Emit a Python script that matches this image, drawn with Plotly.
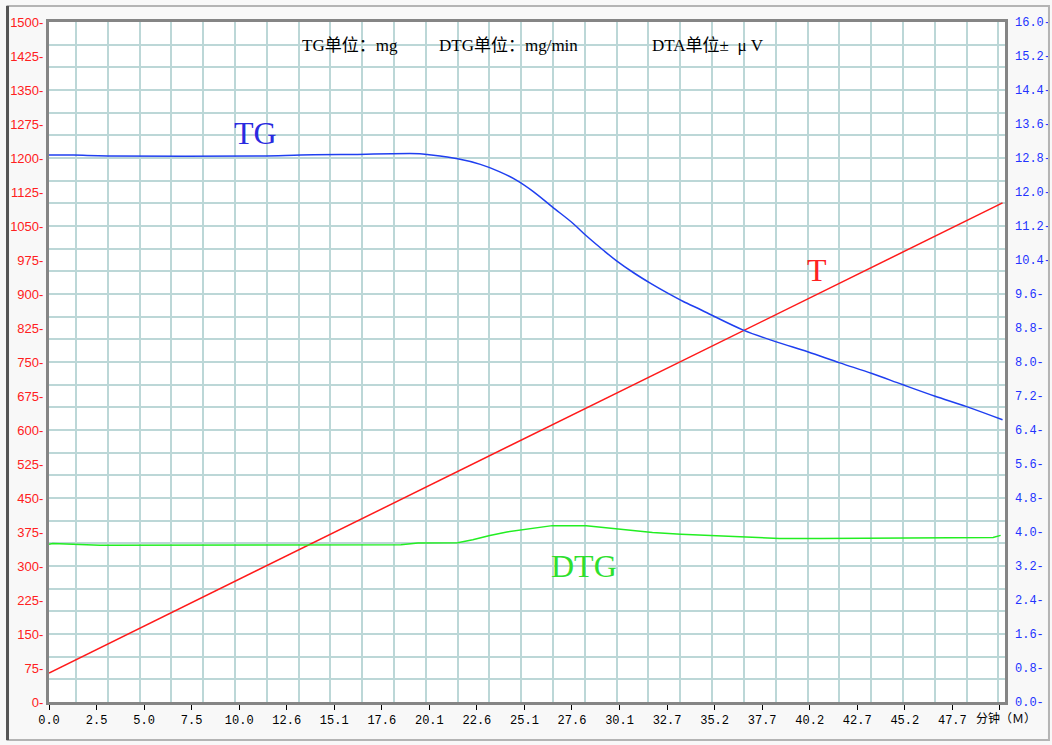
import plotly.graph_objects as go

# ---- thermal analysis readings (time in minutes) ----
# TG: sample mass, right axis (mg)
time_tg = [0.0, 1.3, 3.1, 11.2, 13.3, 15.4, 19.6, 20.0, 21.6, 22.8, 23.8, 24.7,
           25.6, 26.6, 27.7, 28.4, 29.3, 30.0, 30.9, 31.8, 32.7, 33.5, 34.4,
           34.9, 36.7, 38.4, 40.1, 41.8, 43.5, 45.1, 46.8, 48.5, 50.4]
tg_mg = [12.87, 12.87, 12.85, 12.85, 12.87, 12.88, 12.90, 12.88, 12.78, 12.65,
         12.48, 12.28, 12.01, 11.65, 11.26, 10.97, 10.63, 10.38, 10.10, 9.85,
         9.62, 9.43, 9.24, 9.13, 8.75, 8.48, 8.24, 7.98, 7.73, 7.47, 7.20,
         6.95, 6.64]

# DTG: mass-loss rate, right axis (mg/min)
time_dtg = [0.0, 0.2, 2.7, 8.0, 13.3, 18.6, 19.5, 21.6, 22.4, 23.3, 24.2, 24.9,
            25.8, 26.6, 28.4, 29.5, 30.7, 31.9, 33.4, 34.8, 36.7, 38.6, 40.8,
            44.3, 46.0, 47.8, 49.9, 50.3]
dtg = [3.71, 3.73, 3.69, 3.69, 3.69, 3.70, 3.74, 3.75, 3.82, 3.92, 4.00, 4.04,
       4.10, 4.15, 4.15, 4.10, 4.06, 3.99, 3.95, 3.92, 3.88, 3.85, 3.85, 3.86,
       3.85, 3.87, 3.87, 3.92]

# T: furnace temperature, left axis
time_t = [0.0, 12.2, 17.7, 36.7, 40.9, 50.4]
temp_t = [64, 315, 428, 819, 906, 1101]

# ---- axis definitions ----
x_tick_labels = ["0.0", "2.5", "5.0", "7.5", "10.0", "12.6", "15.1", "17.6",
                 "20.1", "22.6", "25.1", "27.6", "30.1", "32.7", "35.2", "37.7",
                 "40.2", "42.7", "45.2", "47.7", ""]
x_axis_unit = "分钟（Ｍ）"
x_tick_step = 2.513
x_max = 50.53
x_tick_vals = [i * x_tick_step for i in range(len(x_tick_labels))]

left_tick_vals = list(range(0, 1501, 75))
left_tick_text = [f"{v}-" for v in left_tick_vals]
right_tick_vals = [round(0.8 * i, 1) for i in range(21)]
right_tick_text = [f"{v:.1f}-" for v in right_tick_vals]

GRID = "#bcd7d7"
FRAME = "#858585"
MONO = "Liberation Mono, Noto Sans CJK SC, monospace"

fig = go.Figure()

# background grid (fixed 30 x 30 cells)
fig.add_trace(go.Scatter(x=[], y=[], xaxis="x3", yaxis="y3",
                         hoverinfo="skip", showlegend=False))

fig.add_trace(go.Scatter(x=time_t, y=temp_t, mode="lines", name="T",
                         line=dict(color="#ff1a1a", width=1.5), yaxis="y"))
fig.add_trace(go.Scatter(x=time_tg, y=tg_mg, mode="lines", name="TG",
                         line=dict(color="#1f3ff0", width=1.5, shape="spline",
                                   smoothing=1.0), yaxis="y2"))
fig.add_trace(go.Scatter(x=time_dtg, y=dtg, mode="lines", name="DTG",
                         line=dict(color="#22ee22", width=1.5), yaxis="y2"))

serif = "Liberation Serif, Noto Sans CJK SC, serif"
head_font = dict(family=serif, size=17, color="black")

annotations = [
    dict(x=10.9, y=13.39, xref="x", yref="y2", text="TG", showarrow=False,
         font=dict(family=serif, size=32, color="#2a2ae0")),
    dict(x=40.6, y=953, xref="x", yref="y", text="T", showarrow=False,
         font=dict(family=serif, size=32, color="#ff2020")),
    dict(x=28.3, y=3.2, xref="x", yref="y2", text="DTG", showarrow=False,
         font=dict(family=serif, size=32, color="#2ee02e")),
    dict(x=0.2626, y=0.982, xref="paper", yref="paper", xanchor="left",
         text="TG单位：mg", showarrow=False, font=head_font),
    dict(x=0.4059, y=0.982, xref="paper", yref="paper", xanchor="left",
         text="DTG单位：mg/min", showarrow=False, font=head_font),
    dict(x=0.6287, y=0.982, xref="paper", yref="paper", xanchor="left",
         text="DTA单位±  μ V", showarrow=False, font=head_font),
    # time unit at the end of the x axis
    dict(x=0.9676, y=-0.025, xref="paper", yref="paper", xanchor="left",
         yanchor="middle", text=x_axis_unit, showarrow=False,
         font=dict(family=MONO, size=12, color="black")),
]

shapes = [
    # window frame
    dict(type="rect", xref="paper", yref="paper", x0=-0.0434, x1=1.046,
         y0=-0.0559, y1=1.0235, line=dict(color="#b4b4b4", width=2)),
    dict(type="line", xref="paper", yref="paper", x0=-0.0434, x1=-0.0434,
         y0=-0.0559, y1=1.0235, line=dict(color="#555555", width=3)),
]

fig.update_layout(
    width=1052, height=745,
    margin=dict(l=49, r=47, t=22, b=43, autoexpand=False),
    paper_bgcolor="#f8f8f8",
    plot_bgcolor="white",
    showlegend=False,
    annotations=annotations,
    shapes=shapes,
    xaxis=dict(range=[0, x_max], tickmode="array", tickvals=x_tick_vals,
               ticktext=x_tick_labels, ticks="outside", ticklen=5,
               tickcolor="black", tickwidth=1, showgrid=False, zeroline=False,
               showline=True, linecolor=FRAME, linewidth=3, mirror=True,
               automargin=False, tickangle=0,
               tickfont=dict(family=MONO, size=12, color="black")),
    yaxis=dict(range=[0, 1500], tickmode="array", tickvals=left_tick_vals,
               ticktext=left_tick_text, ticks="", showgrid=False,
               zeroline=False, showline=True, linecolor=FRAME, linewidth=3,
               mirror=True, ticklabelstandoff=0, automargin=False,
               tickfont=dict(family="Liberation Sans, Arial, sans-serif",
                             size=13, color="#ff2020")),
    yaxis2=dict(range=[0, 16], overlaying="y", side="right", tickmode="array",
                tickvals=right_tick_vals, ticktext=right_tick_text, ticks="",
                showgrid=False, zeroline=False, showline=False,
                ticklabelstandoff=9, automargin=False,
                tickfont=dict(family="Liberation Mono, monospace", size=12,
                              color="#2233ff")),
    xaxis3=dict(range=[-0.849, 29.21], overlaying="x", anchor="y",
                tickmode="linear", tick0=0, dtick=1, showgrid=True,
                gridcolor=GRID, gridwidth=2, showticklabels=False, ticks="",
                zeroline=False, showline=False, automargin=False),
    yaxis3=dict(range=[0, 1500], overlaying="y", anchor="x",
                tickmode="linear", tick0=0, dtick=50, showgrid=True,
                gridcolor=GRID, gridwidth=2, showticklabels=False, ticks="",
                zeroline=False, showline=False, automargin=False),
)

fig.write_html("out.html")
